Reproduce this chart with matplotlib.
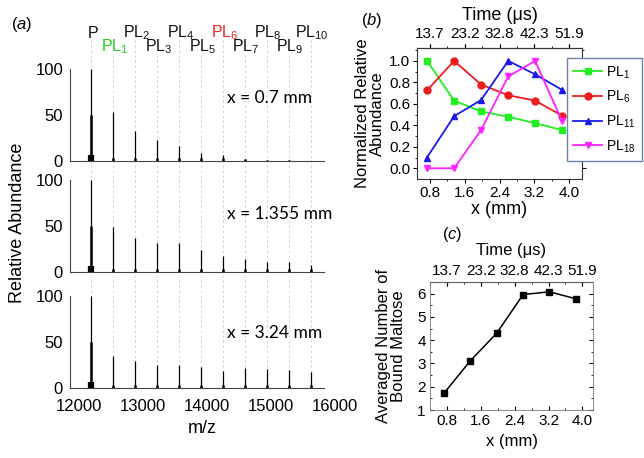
import matplotlib
matplotlib.use("Agg")
import matplotlib.pyplot as plt

plt.rcParams['font.family'] = ['Liberation Sans', 'DejaVu Sans']
plt.rcParams['mathtext.fontset'] = 'custom'
plt.rcParams['mathtext.rm'] = 'Liberation Sans'
plt.rcParams['mathtext.it'] = 'Liberation Sans:italic'

# ---------------- data ----------------
peak_labels = ['P', 'PL$_1$', 'PL$_2$', 'PL$_3$', 'PL$_4$', 'PL$_5$', 'PL$_6$',
               'PL$_7$', 'PL$_8$', 'PL$_9$', 'PL$_{10}$']
peak_mz = [12200, 12542, 12884, 13226, 13568, 13910, 14252, 14594, 14936, 15278, 15620]
positions_text = ['x = 0.7 mm', 'x = 1.355 mm', 'x = 3.24 mm']
heights_07 = [100, 53, 33, 23, 16, 9, 6.5, 2.5, 1.5, 1, 0.5]
heights_1355 = [100, 49, 37, 32, 31, 24, 17, 14, 11, 11, 8]
heights_324 = [100, 35, 29, 25, 25, 23, 19, 22, 21, 20, 17]
core_heights = [50, 50, 50]
mz_ticks = [12000, 13000, 14000, 15000, 16000]

x_mm = [0.73, 1.355, 1.975, 2.6, 3.22, 3.84]
x_ticks = [0.8, 1.6, 2.4, 3.2, 4.0]
time_labels = ['13.7', '23.2', '32.8', '42.3', '51.9']
pl1 = [1.0, 0.63, 0.53, 0.48, 0.42, 0.355]
pl6 = [0.725, 1.0, 0.78, 0.68, 0.63, 0.49]
pl11 = [0.10, 0.485, 0.635, 1.0, 0.875, 0.73]
pl18 = [0.0, 0.0, 0.355, 0.855, 1.0, 0.44]
avg_maltose = [1.72, 3.12, 4.30, 5.96, 6.08, 5.78]

W, H = 644, 458
fig = plt.figure(figsize=(W / 100, H / 100), dpi=100)


def fax(l, t, r, b):
    return fig.add_axes([l / W, 1 - b / H, (r - l) / W, (b - t) / H])


XL = (11865, 16000)
YL = (0, 112)
panel_specs = [(58, 161), (169, 272), (285, 388)]
all_heights = [heights_07, heights_1355, heights_324]
label_green = '#22cc22'
label_red = '#ee2222'

# overlay axis for dashed guide lines and peak labels
ov = fax(70, 0, 335, 388)
ov.set_xlim(XL)
ov.set_ylim(388, 0)
ov.axis('off')
for i, (mz, lab) in enumerate(zip(peak_mz, peak_labels)):
    top = 40 if i % 2 == 0 else 55
    ov.plot([mz, mz], [top, 388], ls=(0, (3, 3)), color='#cccccc', lw=0.6, zorder=0)
    ty = 33 if i % 2 == 0 else 47
    col = label_green if i == 1 else (label_red if i == 6 else '#111111')
    ov.text(mz + 20, ty, lab, ha='center', va='center', fontsize=11.5, color=col)

for k, ((t, b), hts) in enumerate(zip(panel_specs, all_heights)):
    ax = fax(70, t, 335, b)
    ax.patch.set_alpha(0)
    ax.set_xlim(XL)
    ax.set_ylim(YL)
    ax.vlines(peak_mz, 0, hts, color='black', lw=0.9)
    ax.vlines([peak_mz[0]], 0, [core_heights[k]], color='black', lw=1.8)
    ax.vlines([peak_mz[0]], 0, [7], color='black', lw=4.5)
    ax.vlines(peak_mz[1:], 0, [min(h, 3.5) for h in hts[1:]], color='black', lw=1.8)
    for s in ['top', 'right']:
        ax.spines[s].set_visible(False)
    ax.spines['left'].set_bounds(0, 100)
    ax.spines['bottom'].set_bounds(11865, 15830)
    for s in ['left', 'bottom']:
        ax.spines[s].set_linewidth(0.8)
        ax.spines[s].set_color('#444444')
    ax.set_yticks([0, 50, 100])
    ax.tick_params(axis='y', length=0, labelsize=12, pad=5)
    ax.tick_params(axis='x', length=0, labelsize=12, pad=8)
    if k < 2:
        ax.set_xticks([])
    else:
        ax.set_xticks(mz_ticks)
        ax.set_xticklabels([str(v) for v in mz_ticks])
        ax.set_xlabel('m/z', fontsize=13, labelpad=4)
    fig.text(227 / W, 1 - [98, 214, 333][k] / H, positions_text[k], ha='left', va='center',
             fontsize=12.5, family='Lato')

fig.text(18 / W, 1 - 223 / H, 'Relative Abundance', rotation=90, ha='center',
         va='center', fontsize=13)
fig.text(22 / W, 1 - 24 / H, '$(\\mathit{a})$', ha='center', va='center', fontsize=12)

# ---------------- panel b ----------------
axb = fax(417, 48, 582, 179)
axb.set_xlim(0.5, 4.3)
axb.set_ylim(-0.1, 1.12)
series = [(pl1, '#22ee22', 's', 'PL$_1$'), (pl6, '#ee1c1c', 'o', 'PL$_6$'),
          (pl11, '#1a1aee', '^', 'PL$_{11}$'), (pl18, '#ff22ff', 'v', 'PL$_{18}$')]
handles = []
for ys, c, m, lab in series:
    ln, = axb.plot(x_mm, ys, color=c, marker=m, ms=5, lw=1.3, label=lab)
    handles.append(ln)
yt = [0, 0.2, 0.4, 0.6, 0.8, 1.0]
axb.set_xticks(x_ticks)
axb.set_xticklabels(['%.1f' % v for v in x_ticks])
axb.set_yticks(yt)
axb.set_yticklabels(['%.1f' % v for v in yt])
axb.set_xticks([1.2, 2.0, 2.8, 3.6], minor=True)
axb.set_yticks([0.1, 0.3, 0.5, 0.7, 0.9, 1.1], minor=True)
axb.tick_params(which='both', direction='out', top=True, right=True, labelsize=11, pad=2)
axb.tick_params(which='major', length=3)
axb.tick_params(which='minor', length=1.5)
for s in axb.spines.values():
    s.set_linewidth(0.8)
    s.set_color('#333333')
axb.set_xlabel('x (mm)', fontsize=13, labelpad=1)
axb.set_ylabel('Normalized Relative\nAbundance', fontsize=12, labelpad=3, linespacing=1.0)
tb = axb.secondary_xaxis('top')
tb.set_xticks(x_ticks)
tb.set_xticklabels(time_labels)
tb.tick_params(direction='out', length=3, labelsize=11, pad=2)
tb.set_xlabel('Time (\u03bcs)', fontsize=13, labelpad=5)
leg = axb.legend(handles=handles, loc='lower left',
                 bbox_to_anchor=((567 - 417) / 165, (179 - 161) / 131),
                 fontsize=10, frameon=True, fancybox=False, handlelength=2.1,
                 handletextpad=0.25, borderpad=0.45, labelspacing=0.6, borderaxespad=0,
                 framealpha=1)
leg.get_frame().set_edgecolor('#7080a8')
leg.get_frame().set_linewidth(1.0)
fig.text(372 / W, 1 - 20 / H, '$(\\mathit{b})$', ha='center', va='center', fontsize=12)

# ---------------- panel c ----------------
axc = fax(430, 282, 593, 410)
axc.set_xlim(0.4, 4.25)
axc.set_ylim(1, 6.5)
axc.plot(x_mm, avg_maltose, color='black', marker='s', ms=4, lw=1.1)
axc.set_xticks(x_ticks)
axc.set_xticklabels(['%.1f' % v for v in x_ticks])
axc.set_yticks([1, 2, 3, 4, 5, 6])
axc.set_xticks([0.4, 1.2, 2.0, 2.8, 3.6], minor=True)
axc.set_yticks([1.5, 2.5, 3.5, 4.5, 5.5], minor=True)
axc.tick_params(which='both', direction='in', top=True, right=True, labelsize=11, pad=3)
axc.tick_params(which='major', length=3)
axc.tick_params(which='minor', length=1.5)
for s in axc.spines.values():
    s.set_linewidth(0.6)
    s.set_color('#777777')
axc.set_xlabel('x (mm)', fontsize=12, labelpad=4)
axc.set_ylabel('Averaged Number of\nBound Maltose', fontsize=12, labelpad=8, linespacing=1.0)
tc = axc.secondary_xaxis('top')
tc.set_xticks(x_ticks)
tc.set_xticklabels(time_labels)
tc.tick_params(direction='in', length=3, labelsize=11, pad=3)
tc.set_xlabel('Time (\u03bcs)', fontsize=12, labelpad=6)
fig.text(452 / W, 1 - 235 / H, '$(\\mathit{c})$', ha='center', va='center', fontsize=12)

fig.savefig('out.png', dpi=100)
